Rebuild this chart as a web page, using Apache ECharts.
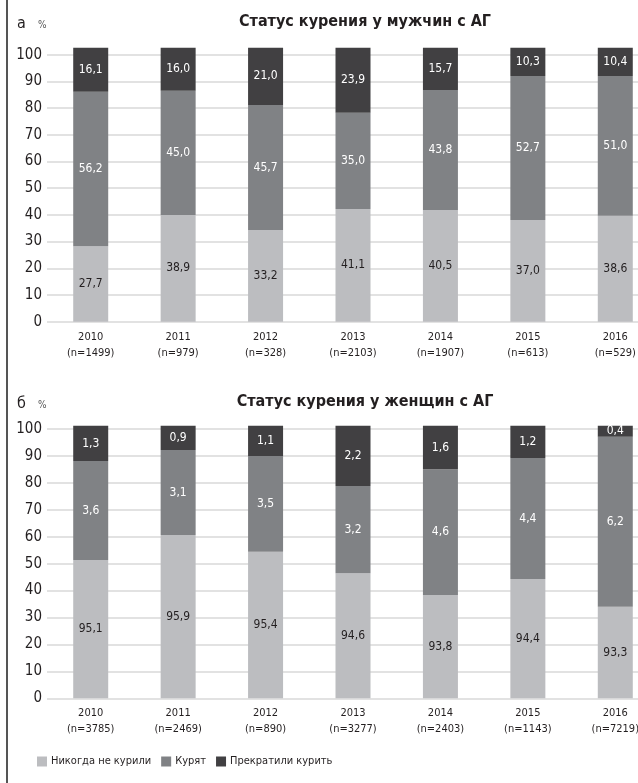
<!DOCTYPE html>
<html>
<head>
<meta charset="utf-8">
<script src="https://cdn.jsdelivr.net/npm/echarts@6/dist/echarts.min.js"></script>
<style>
html,body{margin:0;padding:0;background:#fff;}
#c{width:638px;height:783px;}
</style>
</head>
<body>
<div id="c"></div>
<script>
// ---- data ----
const years = ['2010','2011','2012','2013','2014','2015','2016'];
const menN = ['1499','979','328','2103','1907','613','529'];
const womenN = ['3785','2469','890','3277','2403','1143','7219'];
const seriesNames = ['Никогда не курили','Курят','Прекратили курить'];

// printed values (labels)
const menNeverLbl = [27.7, 38.9, 33.2, 41.1, 40.5, 37.0, 38.6];
const menSmokeLbl = [56.2, 45.0, 45.7, 35.0, 43.8, 52.7, 51.0];
const menQuitLbl  = [16.1, 16.0, 21.0, 23.9, 15.7, 10.3, 10.4];
const womenNeverLbl = [95.1, 95.9, 95.4, 94.6, 93.8, 94.4, 93.3];
const womenSmokeLbl = [3.6, 3.1, 3.5, 3.2, 4.6, 4.4, 6.2];
const womenQuitLbl  = [1.3, 0.9, 1.1, 2.2, 1.6, 1.2, 0.4];

// drawn segment heights, as read against the axis in the picture
const menNeverBar = [28.3, 40.0, 34.3, 42.2, 41.8, 38.1, 39.7];
const menSmokeBar = [57.8, 46.5, 46.9, 36.1, 45.0, 53.9, 52.3];
const menQuitBar  = [16.5, 16.1, 21.4, 24.3, 15.8, 10.6, 10.6];
const womenNeverBar = [51.4, 60.6, 54.4, 46.4, 38.4, 44.3, 34.0];
const womenSmokeBar = [36.7, 31.6, 35.6, 32.4, 46.7, 44.9, 63.1];
const womenQuitBar  = [13.1, 9.0, 11.2, 22.4, 16.1, 12.0, 4.1];

const colors = ['#bcbdc0', '#808285', '#414042'];
const FONT = '"DejaVu Sans Condensed", "Liberation Sans Narrow", sans-serif';
const fmt = v => v.toFixed(1).replace('.', ',');

function mkSeries(name, data, labels, idx, color, txtColor, stack) {
  return {
    name: name, type: 'bar', stack: stack, xAxisIndex: idx, yAxisIndex: idx,
    data: data, barWidth: 35, clip: false,
    itemStyle: { color: color },
    label: {
      show: true, position: 'inside', color: txtColor,
      fontFamily: FONT, fontSize: 12,
      formatter: p => fmt(labels[p.dataIndex])
    }
  };
}

const grids = [
  { left: 47, top: 54.7, width: 612, height: 267, outerBoundsMode: 'none', containLabel: false },
  { left: 47, top: 429, width: 612, height: 269.3, outerBoundsMode: 'none', containLabel: false }
];

function xAx(idx, ns) {
  return {
    type: 'category', gridIndex: idx, data: years,
    axisLine: { show: false }, axisTick: { show: false },
    axisLabel: {
      fontFamily: FONT, fontSize: 11, color: '#231f20', lineHeight: 16, margin: 7,
      formatter: (v, i) => v + '\n(n=' + ns[i] + ')'
    }
  };
}
function yAx(idx) {
  return {
    type: 'value', gridIndex: idx, min: 0, max: 100, interval: 10,
    axisLine: { show: false }, axisTick: { show: false },
    axisLabel: { fontFamily: FONT, fontSize: 15, color: '#231f20', margin: 5 },
    splitLine: { lineStyle: { color: '#e2e2e2', width: 2 } }
  };
}

const chart = echarts.init(document.getElementById('c'), null, { renderer: 'canvas' });
chart.setOption({
  animation: false,
  backgroundColor: '#fff',
  grid: grids,
  xAxis: [xAx(0, menN), xAx(1, womenN)],
  yAxis: [yAx(0), yAx(1)],
  legend: {
    left: 32, top: 751, itemWidth: 10, itemHeight: 10, itemGap: 10,
    icon: 'rect',
    textStyle: { fontFamily: FONT, fontSize: 11, color: '#231f20', padding: [0,0,0,-1] },
    data: seriesNames
  },
  graphic: [
    { type: 'rect', shape: { x: 6, y: 0, width: 2, height: 783 }, style: { fill: '#555' } },
    { type: 'text', x: 17, y: 24, style: { text: 'а', font: '16px ' + FONT, fill: '#231f20', verticalAlign: 'middle' } },
    { type: 'text', x: 38, y: 25, style: { text: '%', font: '10px ' + FONT, fill: '#555', verticalAlign: 'middle' } },
    { type: 'text', x: 365, y: 22, style: { text: 'Статус курения у мужчин с АГ', font: 'bold 16px ' + FONT, fill: '#231f20', align: 'center', verticalAlign: 'middle' } },
    { type: 'text', x: 17, y: 404, style: { text: 'б', font: '16px ' + FONT, fill: '#231f20', verticalAlign: 'middle' } },
    { type: 'text', x: 38, y: 405, style: { text: '%', font: '10px ' + FONT, fill: '#555', verticalAlign: 'middle' } },
    { type: 'text', x: 365, y: 402, style: { text: 'Статус курения у женщин с АГ', font: 'bold 16px ' + FONT, fill: '#231f20', align: 'center', verticalAlign: 'middle' } }
  ],
  series: [
    mkSeries(seriesNames[0], menNeverBar, menNeverLbl, 0, colors[0], '#231f20', 'm'),
    mkSeries(seriesNames[1], menSmokeBar, menSmokeLbl, 0, colors[1], '#ffffff', 'm'),
    mkSeries(seriesNames[2], menQuitBar, menQuitLbl, 0, colors[2], '#ffffff', 'm'),
    mkSeries(seriesNames[0], womenNeverBar, womenNeverLbl, 1, colors[0], '#231f20', 'w'),
    mkSeries(seriesNames[1], womenSmokeBar, womenSmokeLbl, 1, colors[1], '#ffffff', 'w'),
    mkSeries(seriesNames[2], womenQuitBar, womenQuitLbl, 1, colors[2], '#ffffff', 'w')
  ]
});
</script>
</body>
</html>
